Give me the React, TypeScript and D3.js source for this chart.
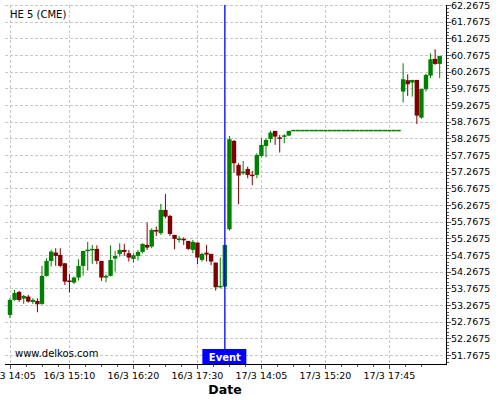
import React from "react";
import * as d3 from "d3";

const title = "HE 5 (CME)";
const watermark = "www.delkos.com";
const eventLabel = "Event";
const eventIndex = 47;

const opens = [
  52.97, 53.42, 53.66, 53.46, 53.52, 53.36, 53.39, 53.30, 54.14, 54.59,
  54.84, 54.77, 54.52, 53.99, 53.94, 54.09, 54.44, 54.89, 54.91, 54.95,
  54.59, 54.09, 54.14, 54.66, 54.80, 54.92, 54.82, 54.65, 54.74, 54.86,
  55.07, 55.02, 55.52, 55.42, 56.12, 55.94, 55.37, 55.22, 55.25, 55.19,
  54.92, 55.14, 54.62, 54.84, 54.80, 54.54, 53.80, 53.82, 55.54, 58.19,
  57.47, 57.22, 57.35, 57.17, 57.17, 57.74, 58.04, 58.25, 58.49, 58.29,
  58.32, 58.35,
  58.5, 58.5, 58.5, 58.5, 58.5, 58.5, 58.5, 58.5, 58.5, 58.5, 58.5, 58.5,
  58.5, 58.5, 58.5, 58.5, 58.5, 58.5, 58.5, 58.5, 58.5, 58.5, 58.5, 58.5,
  59.67, 60.01, 59.94, 60.02, 58.89, 59.74, 60.15, 60.65, 60.50,
];
const highs = [
  53.48, 53.72, 53.69, 53.57, 53.57, 53.47, 53.47, 54.44, 54.67, 54.92,
  54.97, 54.97, 54.52, 54.20, 54.12, 54.64, 54.89, 55.16, 55.07, 55.06,
  54.59, 54.19, 55.06, 54.89, 55.12, 55.10, 54.92, 54.82, 54.92, 55.12,
  55.74, 55.57, 55.62, 56.30, 56.60, 55.97, 55.37, 55.34, 55.30, 55.19,
  55.22, 55.14, 54.84, 55.07, 54.80, 54.54, 54.69, 55.07, 58.34, 58.22,
  57.52, 57.59, 57.42, 57.29, 57.82, 58.27, 58.27, 58.50, 58.49, 58.37,
  58.39, 58.49,
  58.5, 58.5, 58.5, 58.5, 58.5, 58.5, 58.5, 58.5, 58.5, 58.5, 58.5, 58.5,
  58.5, 58.5, 58.5, 58.5, 58.5, 58.5, 58.5, 58.5, 58.5, 58.5, 58.5, 58.5,
  60.52, 60.19, 60.02, 60.02, 59.75, 60.20, 60.82, 60.94, 60.74,
];
const lows = [
  52.88, 53.39, 53.36, 53.30, 53.34, 53.30, 53.05, 53.27, 54.12, 54.42,
  54.44, 54.40, 53.87, 53.64, 53.90, 54.00, 54.15, 54.30, 54.50, 54.49,
  53.99, 53.95, 54.12, 54.27, 54.72, 54.74, 54.57, 54.54, 54.60, 54.82,
  54.92, 54.97, 55.34, 55.37, 55.87, 55.34, 54.94, 55.14, 55.07, 54.92,
  54.82, 54.49, 54.57, 54.57, 54.46, 53.70, 53.77, 53.80, 55.50, 57.23,
  56.29, 57.17, 57.07, 56.86, 57.07, 57.70, 57.70, 58.14, 58.07, 57.84,
  58.12, 58.34,
  58.5, 58.5, 58.5, 58.5, 58.5, 58.5, 58.5, 58.5, 58.5, 58.5, 58.5, 58.5,
  58.5, 58.5, 58.5, 58.5, 58.5, 58.5, 58.5, 58.5, 58.5, 58.5, 58.5, 58.5,
  59.34, 59.54, 59.52, 58.70, 58.85, 59.67, 60.07, 60.47, 60.07,
];
const closes = [
  53.42, 53.63, 53.42, 53.54, 53.37, 53.42, 53.29, 54.14, 54.59, 54.87,
  54.74, 54.44, 53.97, 53.97, 54.09, 54.44, 54.89, 54.92, 54.95, 54.59,
  54.09, 54.14, 54.62, 54.74, 54.92, 54.86, 54.69, 54.76, 54.86, 55.10,
  54.99, 55.52, 55.47, 56.12, 55.92, 55.40, 55.25, 55.26, 55.21, 54.95,
  55.16, 54.69, 54.80, 54.78, 54.57, 53.80, 53.84, 55.07, 58.24, 57.52,
  57.15, 57.27, 57.17, 57.14, 57.77, 58.07, 58.22, 58.44, 58.32, 58.26,
  58.35, 58.49,
  58.5, 58.5, 58.5, 58.5, 58.5, 58.5, 58.5, 58.5, 58.5, 58.5, 58.5, 58.5,
  58.5, 58.5, 58.5, 58.5, 58.5, 58.5, 58.5, 58.5, 58.5, 58.5, 58.5, 58.5,
  60.04, 59.89, 60.02, 58.95, 59.75, 60.17, 60.64, 60.50, 60.74,
];

const xTickIndex = [0, 13, 27, 41, 55, 69, 83];
const xTickLabels = [
  "16/3 14:05", "16/3 15:10", "16/3 16:20", "16/3 17:30",
  "17/3 14:05", "17/3 15:20", "17/3 17:45",
];
const yTickValues = [
  51.7675, 52.2675, 52.7675, 53.2675, 53.7675, 54.2675, 54.7675, 55.2675,
  55.7675, 56.2675, 56.7675, 57.2675, 57.7675, 58.2675, 58.7675, 59.2675,
  59.7675, 60.2675, 60.7675, 61.2675, 61.7675, 62.2675,
];

const W = 500, H = 400;
const plotL = 5, plotR = 446, plotT = 5, plotB = 364;
const FONT = "'DejaVu Sans', sans-serif";
const UP = "#008000", DOWN = "#800000";

export default function App() {
  const n = opens.length;
  const x = d3.scaleLinear().domain([0, n - 1]).range([10, 439.7]);
  const y = d3.scaleLinear().domain([51.4975, 62.2675]).range([plotB, plotT]);
  const bodyW = 4.4;

  // minor ticks
  const xMinor: number[] = [];
  const stepMinor = 3.5;
  for (let k = 0; k < xTickIndex.length; k++) {
    const start = xTickIndex[k];
    const end = k + 1 < xTickIndex.length ? xTickIndex[k + 1] : n - 1;
    for (let t = start + stepMinor; t < end - 0.5; t += stepMinor) xMinor.push(t);
  }
  const yMinor: number[] = [];
  for (let v = 51.5675; v < 62.27; v += 0.1) yMinor.push(v);

  const evX = x(eventIndex);

  return (
    <svg width={W} height={H} style={{ position: "absolute", left: 0, top: 0, background: "#fff" }}>
      <rect x={0} y={0} width={W} height={H} fill="#fff" />
      {/* grid */}
      <g stroke="#c8c8c8" strokeWidth={1} strokeDasharray="3,2">
        {yTickValues.map((v, i) => (
          <line key={"hy" + i} x1={plotL} x2={plotR} y1={Math.round(y(v)) + 0.5} y2={Math.round(y(v)) + 0.5} />
        ))}
        {xTickIndex.map((t, i) => (
          <line key={"vx" + i} x1={Math.round(x(t)) + 0.5} x2={Math.round(x(t)) + 0.5} y1={plotT} y2={plotB} />
        ))}
      </g>

      <text x={10} y={18} fontFamily={FONT} fontSize={10} fill="#000">{title}</text>
      <text x={15} y={357} fontFamily={FONT} fontSize={10} fill="#000">{watermark}</text>

      {/* candles */}
      <g>
        {opens.map((o, i) => {
          const c = closes[i];
          const col = c >= o ? UP : DOWN;
          const cx = x(i);
          const top = y(Math.max(o, c));
          const bot = y(Math.min(o, c));
          const h = Math.max(bot - top, 1.5);
          return (
            <g key={"c" + i}>
              <line x1={cx} x2={cx} y1={y(highs[i])} y2={y(lows[i])} stroke={col} strokeWidth={1} />
              <rect x={cx - bodyW / 2} y={top - (h - (bot - top)) / 2} width={bodyW} height={h} fill={col} />
            </g>
          );
        })}
      </g>

      {/* event line */}
      <line x1={evX} x2={evX} y1={plotT} y2={plotB} stroke="#0000ff" strokeWidth={1.3} />
      <rect x={evX - 22.5} y={349} width={44} height={15} fill="#0000ff" />
      <text x={evX} y={360.5} textAnchor="middle" fontFamily={FONT} fontSize={10} fontWeight="bold" fill="#fff">{eventLabel}</text>

      {/* axes */}
      <line x1={plotL} x2={plotR} y1={plotB + 0.5} y2={plotB + 0.5} stroke="#000" strokeWidth={1} />
      <line x1={plotR + 0.5} x2={plotR + 0.5} y1={plotT} y2={plotB + 1} stroke="#000" strokeWidth={1} />

      <g stroke="#555" strokeWidth={1}>
        {xTickIndex.map((t, i) => (
          <line key={"xt" + i} x1={Math.round(x(t)) + 0.5} x2={Math.round(x(t)) + 0.5} y1={plotB + 1} y2={plotB + 5} />
        ))}
        {xMinor.map((t, i) => (
          <line key={"xm" + i} x1={Math.round(x(t)) + 0.5} x2={Math.round(x(t)) + 0.5} y1={plotB + 1} y2={plotB + 3} />
        ))}
        {yTickValues.map((v, i) => (
          <line key={"yt" + i} x1={plotR + 1} x2={plotR + 5} y1={Math.round(y(v)) + 0.5} y2={Math.round(y(v)) + 0.5} />
        ))}
        {yMinor.map((v, i) => (
          <line key={"ym" + i} x1={plotR + 1} x2={plotR + 3} y1={Math.round(y(v)) + 0.5} y2={Math.round(y(v)) + 0.5} />
        ))}
      </g>

      {xTickIndex.map((t, i) => (
        <text key={"xl" + i} x={x(t)} y={379} textAnchor="middle" fontFamily={FONT} fontSize={9.5} fill="#000">
          {xTickLabels[i]}
        </text>
      ))}
      {yTickValues.map((v, i) => (
        <text key={"yl" + i} x={451} y={y(v) + 3.5} fontFamily={FONT} fontSize={9.5} fill="#000">
          {v.toFixed(4)}
        </text>
      ))}

      <text x={225} y={394} textAnchor="middle" fontFamily={FONT} fontSize={12.5} fontWeight="bold" fill="#000">Date</text>
    </svg>
  );
}
